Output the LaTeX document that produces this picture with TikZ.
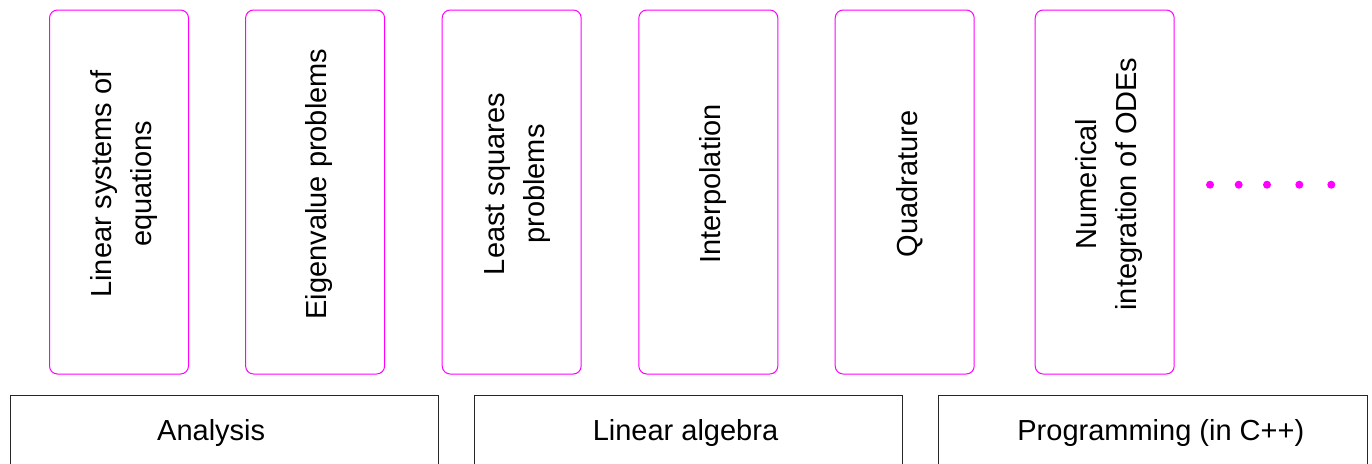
\documentclass[tikz,border=0pt]{standalone}
\usepackage{fontspec}
\setmainfont{Liberation Sans}
\definecolor{mag}{RGB}{255,0,255}
\begin{document}
\begin{tikzpicture}[x=1pt,y=-1pt,
  topic/.style={draw=mag, line width=1pt, rounded corners=8pt, minimum width=139pt, minimum height=364pt, inner sep=0pt},
  lbl/.style={rotate=90, align=center, font=\fontsize{29}{40}\selectfont, inner sep=0pt},
  area/.style={draw=black!85, line width=1pt, minimum width=428pt, minimum height=100pt, inner sep=0pt},
  alabel/.style={anchor=base, font=\fontsize{29}{35}\selectfont, inner sep=0pt},
  dotmark/.style={circle, fill=mag, minimum size=8pt, inner sep=0pt}]
\path[use as bounding box] (0,0) rectangle (1372,463);
\clip (0,0) rectangle (1372,463);
% topic boxes
\node[topic] (b1) at (119,192) {};
\node[topic] (b2) at (315.1,192) {};
\node[topic] (b3) at (511.7,192) {};
\node[topic] (b4) at (708.3,192) {};
\node[topic] (b5) at (904.7,192) {};
\node[topic] (b6) at (1104.7,192) {};
% topic labels
\node[lbl] (t1) at (124.2,184) {Linear systems of\\equations};
\node[lbl] (t2) at (319.2,184) {Eigenvalue problems};
\node[lbl] (t3) at (517.5,184) {Least squares\\problems};
\node[lbl] (t4) at (712.5,184) {Interpolation};
\node[lbl] (t5) at (909.3,184) {Quadrature};
\node[lbl] (t6) at (1108.5,184) {Numerical\\integration of ODEs};
% dots
\node[dotmark] (d1) at (1210,184.7) {};
\node[dotmark] (d2) at (1238.7,184.7) {};
\node[dotmark] (d3) at (1267,184.7) {};
\node[dotmark] (d4) at (1299.3,184.7) {};
\node[dotmark] (d5) at (1331.3,184.7) {};
% area boxes
\node[area] (a1) at (224.2,445.3) {};
\node[area] (a2) at (688.7,445.3) {};
\node[area, minimum width=429pt] (a3) at (1152.8,445.3) {};
\node[alabel] (l1) at (211.2,440.5) {Analysis};
\node[alabel] (l2) at (685.5,440.5) {Linear algebra};
\node[alabel] (l3) at (1160.8,440.5) {Programming (in C++)};
\end{tikzpicture}
\end{document}
